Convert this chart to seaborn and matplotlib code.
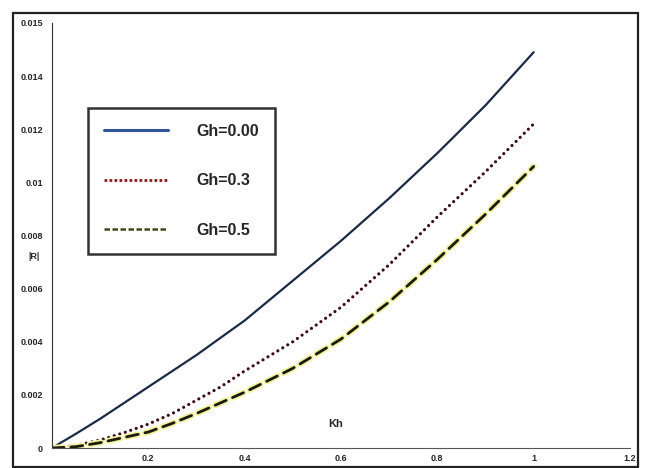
import numpy as np
import pandas as pd
import matplotlib
matplotlib.use("Agg")
import matplotlib.pyplot as plt
import matplotlib.patheffects as pe
from matplotlib.patches import Rectangle
import seaborn as sns

# Dados
kh = [0.0, 0.05, 0.1, 0.15, 0.2, 0.25, 0.3, 0.35, 0.4, 0.45, 0.5,
      0.55, 0.6, 0.65, 0.7, 0.75, 0.8, 0.85, 0.9, 0.95, 1.0]
r_gh000 = [0.0, 0.00054, 0.0011, 0.0017, 0.0023, 0.0029, 0.0035, 0.00415, 0.0048, 0.00555, 0.0063,
           0.00705, 0.0078, 0.0086, 0.0094, 0.01025, 0.0111, 0.0120, 0.0129, 0.0139, 0.0149]
r_gh03 = [0.0, 0.0001, 0.0003, 0.00058, 0.0009, 0.0013, 0.0018, 0.0023, 0.0029, 0.00345, 0.0040,
          0.00465, 0.0053, 0.0061, 0.0069, 0.0078, 0.0087, 0.00955, 0.0104, 0.0113, 0.0122]
r_gh05 = [0.0, 0.00005, 0.0002, 0.0004, 0.0006, 0.00093, 0.0013, 0.0017, 0.0021, 0.00255, 0.0030,
          0.00355, 0.0041, 0.0048, 0.0055, 0.0063, 0.0071, 0.00795, 0.0088, 0.0097, 0.0106]
series_labels = ["Gh=0.00", "Gh=0.3", "Gh=0.5"]

# o topo do eixo (0.016) aparece rotulado como "0.015" no original
y_ticks = [0, 0.002, 0.004, 0.006, 0.008, 0.01, 0.012, 0.014, 0.016]
y_tick_labels = ["0", "0.002", "0.004", "0.006", "0.008", "0.01", "0.012", "0.014", "0.015"]
x_ticks = [0.2, 0.4, 0.6, 0.8, 1.0, 1.2]
x_tick_labels = ["0.2", "0.4", "0.6", "0.8", "1", "1.2"]

df = pd.DataFrame({
    "Kh": kh * 3,
    "R": r_gh000 + r_gh03 + r_gh05,
    "serie": [series_labels[0]] * len(kh) + [series_labels[1]] * len(kh) + [series_labels[2]] * len(kh),
})

sns.set_style("white")
plt.rcParams["font.family"] = ["Liberation Sans", "DejaVu Sans"]

fig = plt.figure(figsize=(6.46, 4.68), dpi=100)
ax = fig.add_axes([52 / 646, 1 - 448 / 468, 578 / 646, 425 / 468])

# Moldura externa
fig.patches.append(Rectangle((13 / 646, 1 - 467 / 468), 625 / 646, 454 / 468,
                             transform=fig.transFigure, fill=False,
                             edgecolor="#222222", linewidth=1.6))

cores = {"Gh=0.00": "#1b2a45", "Gh=0.3": "#3a0c14", "Gh=0.5": "#1a1a10"}
estilos = {"Gh=0.00": "-", "Gh=0.3": (0, (0.01, 1.8)), "Gh=0.5": (0, (4.3, 2.5))}
larguras = {"Gh=0.00": 1.6, "Gh=0.3": 2.3, "Gh=0.5": 2.0}

for nome in series_labels:
    sub = df[df["serie"] == nome]
    efeitos = None
    if nome == "Gh=0.5":
        efeitos = [pe.Stroke(linewidth=4.5, foreground="#f2f2a0"), pe.Normal()]
    sns.lineplot(data=sub, x="Kh", y="R", ax=ax, color=cores[nome],
                 linewidth=larguras[nome], linestyle=estilos[nome],
                 dash_capstyle="round", path_effects=efeitos, legend=False)

ax.set_xlim(0, 1.2)
ax.set_ylim(0, 0.016)
ax.set_xticks(x_ticks)
ax.set_xticklabels(x_tick_labels, fontsize=6.5, fontweight="bold")
ax.set_yticks(y_ticks)
ax.set_yticklabels(y_tick_labels, fontsize=6.5, fontweight="bold")
ax.tick_params(axis="both", length=3, width=0.8, color="#555555", direction="out")
ax.tick_params(axis="x", pad=2, length=2)
sns.despine(ax=ax)
ax.spines["left"].set_color("#333333")
ax.spines["bottom"].set_color("#555555")
ax.set_xlabel("")
ax.set_ylabel("")

ax.text(-0.025, 0.0072, "|R|", fontsize=6.5, fontweight="bold", ha="right", va="center",
        clip_on=False)
ax.text(0.59, 0.0009, "Kh", fontsize=8, fontweight="bold", ha="center", va="center")

# Legenda com caixa
leg_cores = ["#2e5597", "#8b1a1a", "#3d4d1a"]
leg_estilos = ["-", (0, (1.0, 0.8)), (0, (2.2, 1.0))]
handles = [plt.Line2D([], [], color=leg_cores[i], linestyle=leg_estilos[i],
                      linewidth=[2.2, 2.0, 1.8][i]) for i in range(3)]
leg = ax.legend(handles, series_labels, loc="upper left",
                bbox_to_anchor=(36 / 578, 1 - 85 / 425), frameon=True,
                fancybox=False, handlelength=4.0, handletextpad=1.8,
                labelspacing=2.15, borderpad=1.0, borderaxespad=0,
                prop={"weight": "bold", "size": 11.5})
leg.get_frame().set_edgecolor("black")
leg.get_frame().set_linewidth(1.8)

fig.savefig("out.png", dpi=100)
